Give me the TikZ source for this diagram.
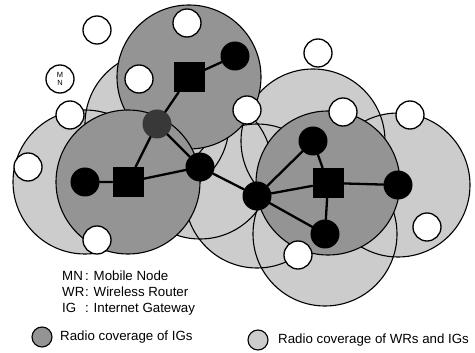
\documentclass[tikz,border=0pt]{standalone}
\usepackage{fontspec}
\setmainfont{Liberation Sans}
\usetikzlibrary{backgrounds}
\begin{document}
\begin{tikzpicture}[x=1pt,y=-1pt,line join=round,line cap=round,
	wr/.style={circle,fill=black,minimum size=29pt,inner sep=0pt},
	ig/.style={rectangle,fill=black,minimum width=31pt,minimum height=30pt,inner sep=0pt},
	mn/.style={circle,draw,fill=white,line width=1.3pt,minimum size=28pt,inner sep=0pt,align=center,font=\fontsize{7.5}{8.5}\selectfont},
	link/.style={line width=2.3pt},
	wrcov/.style={fill=black!20},
	igcov/.style={fill=black!42,draw,line width=1.1pt},
	legend/.style={anchor=west,inner sep=0pt,font=\fontsize{13.3}{16}\selectfont}]
	%%Ban kinh vung phu song
	\def \rcov{72pt}
	\def \ricon{10pt}
	\useasboundingbox (0,0) rectangle (475,353);
	%%Internet Gateway
	\node[ig] (igT) at (189,77) {};
	\node[ig] (igL) at (128,182) {};
	\node[ig] (igR) at (328,183) {};
	%%Wireless Router
	\node[wr] (wrA) at (235,56) {};
	\node[wr,fill=black!78] (wrB) at (157,124) {};
	\node[wr] (wrC) at (200,167) {};
	\node[wr] (wrD) at (85,182) {};
	\node[wr] (wrE) at (257,196) {};
	\node[wr] (wrF) at (313,141) {};
	\node[wr] (wrG) at (325,234) {};
	\node[wr] (wrH) at (398,185) {};
	%%Mobile Node
	\node[mn] (mnA) at (97,30) {};
	\node[mn] (mnB) at (187,23) {};
	\node[mn] (mnC) at (60,79) {M\\N};
	\node[mn] (mnD) at (139,79) {};
	\node[mn] (mnE) at (70,115) {};
	\node[mn] (mnF) at (28,167) {};
	\node[mn] (mnG) at (247,110) {};
	\node[mn] (mnH) at (318,53) {};
	\node[mn] (mnI) at (343,112) {};
	\node[mn] (mnJ) at (410,115) {};
	\node[mn] (mnK) at (427,227) {};
	\node[mn] (mnL) at (298,255) {};
	\node[mn] (mnM) at (97,240) {};
	%%Lien ket
	\draw[link] (igT)--(wrA) (igT)--(wrB) (wrB)--(igL) (wrB)--(wrC)
		(wrD)--(igL) (igL)--(wrC) (wrC)--(wrE)
		(wrE)--(wrF) (wrE)--(igR) (wrE)--(wrG)
		(wrF)--(igR) (igR)--(wrG) (igR)--(wrH);
	%%Vung phu song
	\begin{scope}[on background layer]
		\foreach \c in {wrD,wrB,wrC,wrE,wrF,wrG,wrH}
			\fill[wrcov] (\c.center) circle (\rcov);
		\foreach \c in {wrD,wrB,wrC,wrE,wrF,wrG,wrH}
			\draw[line width=1.1pt] (\c.center) circle (\rcov);
		\foreach \c in {igT,igL,igR}
			\draw[igcov] (\c.center) circle (\rcov);
	\end{scope}
	%%Chu thich
	\node[legend,anchor=north west] (key) at (62,269) {\begin{tabular}{@{}l@{}l@{}}MN\, &: Mobile Node\\ WR&: Wireless Router\\ IG &: Internet Gateway\end{tabular}};
	\draw[igcov] (42,337) circle (\ricon);
	\node[legend] (keyIG) at (60,337) {Radio coverage of IGs};
	\draw[wrcov,draw,line width=1.1pt] (258,340) circle (\ricon);
	\node[legend] (keyWR) at (278,340) {Radio coverage of WRs and IGs};
\end{tikzpicture}
\end{document}
